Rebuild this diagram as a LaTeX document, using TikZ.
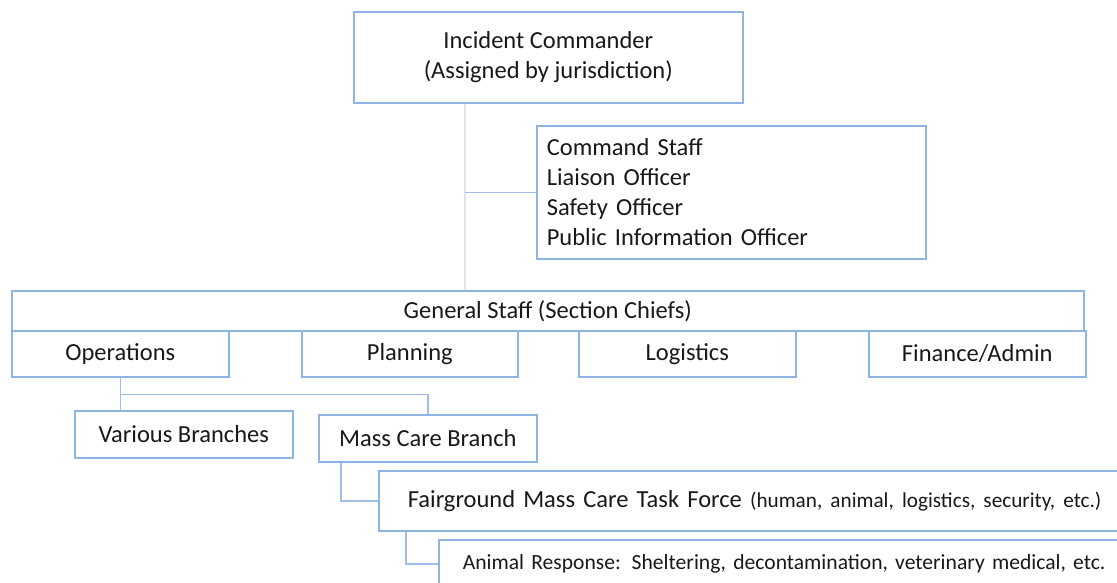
\documentclass[tikz,border=0pt]{standalone}
\usepackage{fontspec}
\setmainfont{Carlito}
\usetikzlibrary{calc}
\definecolor{boxblue}{RGB}{141,180,226}
\definecolor{linkblue}{RGB}{160,190,230}
\definecolor{paleline}{RGB}{220,228,238}
\definecolor{txt}{RGB}{25,25,25}
\tikzset{
  orgbox/.style={draw=boxblue, line width=1.6pt, fill=white, rectangle, inner sep=0pt, text=txt, font=\fontsize{24.5}{30}\selectfont, anchor=north west},
  link/.style={draw=linkblue, line width=1.4pt},
  palelink/.style={draw=paleline, line width=1.4pt}
}
\begin{document}
\begin{tikzpicture}[x=1pt,y=-1pt]
\useasboundingbox (0,0) rectangle (1117,582);
\node[orgbox, minimum width=389, minimum height=91, align=center] (ic) at (353,11) {Incident Commander\\(Assigned by jurisdiction)};
\node[orgbox, minimum width=389, minimum height=133, text width=369, align=left] (cs) at (536,125) {Command Staff\\Liaison Officer\\Safety Officer\\Public Information Officer};
\node[orgbox, minimum width=1072, minimum height=40] (gs) at (11,290) {General Staff (Section Chiefs)};
\coordinate (icl) at ($(ic.south west)+(112,0)$);
\draw[palelink] (icl) -- (icl |- gs.north);
\draw[link] (cs.west) -- (cs.west -| icl);
\node[orgbox, minimum width=217, minimum height=46] (ops) at (11,330) {Operations};
\node[orgbox, minimum width=216, minimum height=46] (plan) at (301,330) {Planning};
\node[orgbox, minimum width=217, minimum height=46] (log) at (578,330) {Logistics};
\node[orgbox, minimum width=217, minimum height=46] (fin) at (868,330) {Finance/Admin};
\node[orgbox, minimum width=218, minimum height=47] (vb) at (74,410) {Various Branches};
\node[orgbox, minimum width=218, minimum height=47] (mcb) at (318,414) {Mass Care Branch};
\coordinate (opsj) at ($(ops.south)+(0,17)$);
\draw[link] (ops.south) -- (ops.south |- vb.north);
\draw[link] (opsj) -| (mcb.north);
\node[orgbox, minimum width=760, minimum height=60, text width=702, align=left] (fg) at (378,470) {Fairground Mass Care Task Force {\fontsize{21.2}{26}\selectfont(human, animal, logistics, security, etc.)}};
\node[orgbox, minimum width=700, minimum height=48, text width=652, align=left, font=\fontsize{21.6}{26}\selectfont] (ar) at (438,539) {Animal Response: Sheltering, decontamination, veterinary medical, etc.};
\coordinate (mcbl) at ($(mcb.south west)+(23,0)$);
\draw[link] (mcbl) |- (fg.west);
\coordinate (fgl) at ($(fg.south west)+(28,0)$);
\draw[link] (fgl) |- (ar.west);
\end{tikzpicture}
\end{document}
